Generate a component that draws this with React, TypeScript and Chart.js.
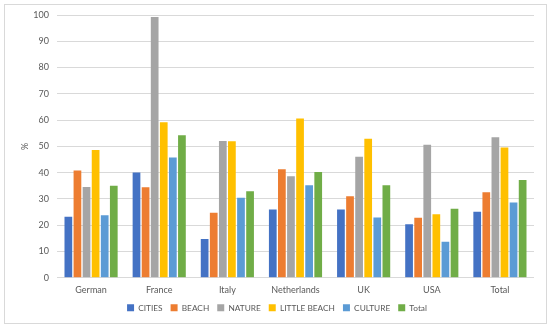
import React, { useEffect, useRef } from "react";
import { Chart, registerables } from "chart.js";

Chart.register(...registerables);

const categories = ["German", "France", "Italy", "Netherlands", "UK", "USA", "Total"];
const cities = [23.2, 40.0, 14.7, 26.0, 26.0, 20.3, 25.1];
const beach = [40.8, 34.4, 24.7, 41.3, 31.0, 22.8, 32.5];
const nature = [34.5, 99.2, 52.0, 38.6, 46.0, 50.6, 53.5];
const littleBeach = [48.6, 59.2, 51.9, 60.6, 52.9, 24.2, 49.6];
const culture = [23.8, 45.8, 30.4, 35.2, 22.9, 13.7, 28.6];
const total = [35.0, 54.2, 32.9, 40.2, 35.2, 26.2, 37.2];
const yTicks = [0, 10, 20, 30, 40, 50, 60, 70, 80, 90, 100];

const FONT = "Lato, 'Liberation Sans', sans-serif";
const TEXT = "#595959";
const FS = 9;

export default function App() {
  const ref = useRef<HTMLCanvasElement>(null);
  useEffect(() => {
    const ctx = ref.current!;
    const mk = (label: string, data: number[], color: string) => ({
      label,
      data,
      backgroundColor: color,
      borderWidth: 0,
      categoryPercentage: 0.8,
      barPercentage: 0.85,
    });
    const chart = new Chart(ctx, {
      type: "bar",
      data: {
        labels: categories,
        datasets: [
          mk("CITIES", cities, "#4472C4"),
          mk("BEACH", beach, "#ED7D31"),
          mk("NATURE", nature, "#A5A5A5"),
          mk("LITTLE BEACH", littleBeach, "#FFC000"),
          mk("CULTURE", culture, "#5B9BD5"),
          mk("Total", total, "#70AD47"),
        ],
      },
      options: {
        animation: false,
        responsive: false,
        maintainAspectRatio: false,
        layout: { padding: { left: 20, right: 16, top: 15, bottom: 6 } },
        plugins: {
          tooltip: { enabled: false },
          legend: {
            position: "bottom",
            labels: {
              boxWidth: 7,
              boxHeight: 7,
              padding: 8,
              color: TEXT,
              font: { family: FONT, size: 8.3 },
            },
          },
        },
        scales: {
          x: {
            grid: { display: false, drawTicks: false, tickLength: 0 },
            border: { display: false },
            afterFit: (axis: any) => {
              axis.height = 18;
            },
            ticks: { color: TEXT, font: { family: FONT, size: FS }, padding: 7 },
          },
          y: {
            min: 0,
            max: 100,
            afterBuildTicks: (axis: any) => {
              axis.ticks = yTicks.map((v) => ({ value: v }));
            },
            afterFit: (axis: any) => {
              axis.width = 37;
            },
            grid: { color: "#D9D9D9", drawTicks: false },
            border: { display: false },
            ticks: { color: TEXT, font: { family: FONT, size: FS }, padding: 8 },
            title: {
              display: true,
              text: "%",
              color: TEXT,
              font: { family: FONT, size: FS },
              padding: 0,
            },
          },
        },
      },
    } as any);
    return () => chart.destroy();
  }, []);
  return (
    <div style={{ position: "fixed", left: 0, top: 0, width: 550, height: 328, background: "#fff" }}>
      <div
        style={{
          position: "absolute",
          left: 4,
          top: 4,
          width: 541,
          height: 318,
          border: "1px solid #D9D9D9",
        }}
      />
      <canvas ref={ref} width={550} height={328} style={{ position: "absolute", left: 0, top: 0 }} />
    </div>
  );
}
